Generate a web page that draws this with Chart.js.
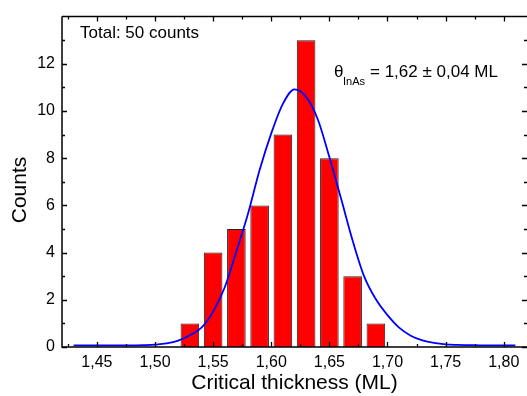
<!DOCTYPE html>
<html>
<head>
<meta charset="utf-8">
<script src="https://cdn.jsdelivr.net/npm/chart.js@4/dist/chart.umd.min.js"></script>
<style>
  html, body { margin: 0; padding: 0; background: #fff; }
  #wrap { width: 527px; height: 396px; }
</style>
</head>
<body>
<div id="wrap"><canvas id="myChart"></canvas></div>
<script>
// histogram bins (bin centre, ML) and counts
let binCenters = [1.53, 1.55, 1.57, 1.59, 1.61, 1.63, 1.65, 1.67, 1.69];
let counts = [1, 4, 5, 6, 9, 13, 8, 3, 1];

// gaussian fit
let fitX = [1.43, 1.44, 1.45, 1.46, 1.47, 1.48, 1.49, 1.50, 1.51, 1.52, 1.53, 1.54, 1.55, 1.56, 1.57, 1.58, 1.59, 1.60,
            1.61, 1.62, 1.63, 1.64, 1.65, 1.66, 1.67, 1.68, 1.69, 1.70, 1.71, 1.72, 1.73, 1.74, 1.75, 1.76, 1.77, 1.78, 1.79, 1.80, 1.81];
let fitY = [0.07, 0.07, 0.07, 0.07, 0.07, 0.07, 0.08, 0.1, 0.15, 0.27, 0.5, 0.82, 1.5, 2.53, 4.05, 5.65, 7.5, 9.05,
            10.3, 10.92, 10.6, 9.65, 8.05, 6.3, 4.51, 2.98, 2.02, 1.35, 0.82, 0.48, 0.28, 0.17, 0.11, 0.09, 0.08, 0.07, 0.07, 0.07, 0.07];

// axis ticks
let xMajor = [1.45, 1.50, 1.55, 1.60, 1.65, 1.70, 1.75, 1.80];
let xMinor = [1.425, 1.475, 1.525, 1.575, 1.625, 1.675, 1.725, 1.775, 1.825];
let yMajor = [0, 2, 4, 6, 8, 10, 12];
let yMinor = [1, 3, 5, 7, 9, 11, 13];

const FONT = "'Liberation Sans', Arial, sans-serif";

// frame, inward ticks, titles and notes
const framePlugin = {
    id: 'frame',
    afterDraw: function (chart) {
        const ctx = chart.ctx;
        const a = chart.chartArea;
        const xs = chart.scales.x, ys = chart.scales.y;
        ctx.save();
        ctx.strokeStyle = '#000';
        ctx.lineWidth = 1.5;
        ctx.beginPath();
        ctx.moveTo(a.left, a.top);
        ctx.lineTo(a.left, a.bottom);
        ctx.lineTo(a.right + 2, a.bottom);
        ctx.moveTo(a.left, a.top);
        ctx.lineTo(a.right + 2, a.top);
        ctx.stroke();

        ctx.lineWidth = 1.3;
        ctx.beginPath();
        xMajor.forEach(function (v) {
            const p = Math.round(xs.getPixelForValue(v)) + 0.5;
            ctx.moveTo(p, a.bottom); ctx.lineTo(p, a.bottom - 5);
            ctx.moveTo(p, a.top); ctx.lineTo(p, a.top + 5);
        });
        xMinor.forEach(function (v) {
            const p = Math.round(xs.getPixelForValue(v)) + 0.5;
            ctx.moveTo(p, a.bottom); ctx.lineTo(p, a.bottom - 3);
            ctx.moveTo(p, a.top); ctx.lineTo(p, a.top + 3);
        });
        yMajor.forEach(function (v) {
            const p = Math.round(ys.getPixelForValue(v)) + 0.5;
            ctx.moveTo(a.left, p); ctx.lineTo(a.left + 5, p);
            ctx.moveTo(a.right, p); ctx.lineTo(a.right - 5, p);
        });
        yMinor.forEach(function (v) {
            const p = Math.round(ys.getPixelForValue(v)) + 0.5;
            ctx.moveTo(a.left, p); ctx.lineTo(a.left + 3, p);
            ctx.moveTo(a.right, p); ctx.lineTo(a.right - 3, p);
        });
        ctx.stroke();

        ctx.fillStyle = '#000';
        ctx.textBaseline = 'middle';
        // axis titles
        ctx.font = '21px ' + FONT;
        ctx.textAlign = 'center';
        ctx.fillText('Critical thickness (ML)', (a.left + a.right) / 2, 383);
        ctx.save();
        ctx.translate(20, 190);
        ctx.rotate(-Math.PI / 2);
        ctx.fillText('Counts', 0, 0);
        ctx.restore();

        // notes
        ctx.textAlign = 'left';
        ctx.font = '17px ' + FONT;
        ctx.fillText('Total: 50 counts', 80, 33);
        ctx.fillText('\u03B8', 334, 72);
        ctx.font = '11px ' + FONT;
        ctx.fillText('InAs', 343, 82);
        ctx.font = '17px ' + FONT;
        ctx.fillText('= 1,62 \u00B1 0,04 ML', 370, 72);
        ctx.restore();
    }
};

new Chart("myChart", {
    data: {
        datasets: [{
                type: 'line',
                order: 0,
                data: fitX.map(function (x, i) { return {x: x, y: fitY[i]}; }),
                borderColor: '#0000ff',
                borderWidth: 1.8,
                pointRadius: 0,
                cubicInterpolationMode: 'monotone',
                fill: false
            }, {
                type: 'bar',
                order: 1,
                data: binCenters.map(function (x, i) { return {x: x, y: counts[i]}; }),
                backgroundColor: '#ff0000',
                borderColor: '#222',
                borderWidth: 1,
                barPercentage: 0.8,
                categoryPercentage: 1
            }]
    },
    options: {
        responsive: true,
        maintainAspectRatio: false,
        animation: false,
        events: [],
        layout: {padding: {top: 11, right: 0, left: 0, bottom: 0}},
        plugins: {
            legend: {display: false},
            tooltip: {enabled: false}
        },
        scales: {
            x: {
                type: 'linear',
                offset: false,
                min: 1.42,
                max: 1.82,
                grid: {display: false, drawTicks: false, offset: false},
                border: {display: false},
                afterBuildTicks: function (s) { s.ticks = xMajor.map(function (v) { return {value: v}; }); },
                afterFit: function (s) { s.height = 49; },
                ticks: {
                    padding: 6,
                    color: '#000',
                    font: {family: FONT, size: 16},
                    maxRotation: 0,
                    callback: function (v) { return v.toFixed(2).replace('.', ','); }
                }
            },
            y: {
                min: 0,
                max: 14,
                grid: {display: false, drawTicks: false},
                border: {display: false},
                afterBuildTicks: function (s) { s.ticks = yMajor.map(function (v) { return {value: v}; }); },
                afterFit: function (s) { s.width = 62; },
                ticks: {
                    padding: 7,
                    color: '#000',
                    font: {family: FONT, size: 16}
                }
            }
        }
    },
    plugins: [framePlugin]
});
</script>
</body>
</html>
